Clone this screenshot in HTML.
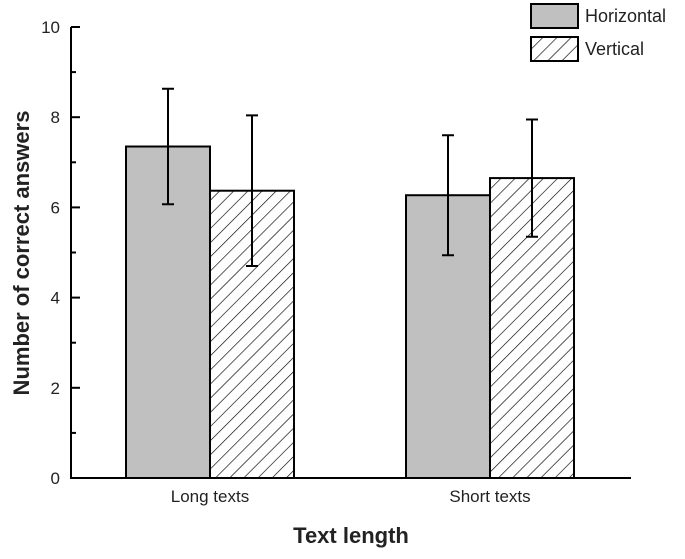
<!DOCTYPE html>
<html><head><meta charset="utf-8"><style>
body{margin:0;background:#fff;width:685px;height:554px;overflow:hidden}
text{font-family:"Liberation Sans",sans-serif;fill:#222}
</style></head><body>
<svg id="chart" width="685" height="554" xmlns="http://www.w3.org/2000/svg">
<defs><pattern id="hatch" patternUnits="userSpaceOnUse" width="10" height="10" patternTransform="rotate(45)">
<rect width="10" height="10" fill="#fff"/><line x1="0" y1="0" x2="0" y2="10" stroke="#000" stroke-width="1.3"/></pattern></defs>
<g id="plot"></g>
</svg>
<script>
const categories=["Long texts","Short texts"];
const seriesNames=["Horizontal","Vertical"];
const horizontalMeans=[7.35,6.27];
const horizontalErr=[1.28,1.33];
const verticalMeans=[6.37,6.65];
const verticalErr=[1.67,1.3];
const yTicks=[0,2,4,6,8,10];
const NS="http://www.w3.org/2000/svg";
const g=document.getElementById('plot');
const X0=71,X1=631,Y0=478,Y10=27;
const y=v=>Y0-(Y0-Y10)*v/10;
const catCenter=i=>210+i*(490-210);
const barW=84;
function el(t,a,p){const e=document.createElementNS(NS,t);for(const k in a)e.setAttribute(k,a[k]);(p||g).appendChild(e);return e;}
const ya=el('line',{x1:X0,y1:Y10,x2:X0,y2:Y0+1,stroke:'#000','stroke-width':2});


const xa=el('line',{x1:X0-1,y1:Y0,x2:X1,y2:Y0,stroke:'#000','stroke-width':2});


for(let v=0;v<=10;v++){const major=v%2===0;el('line',{x1:X0,x2:X0+(major?9:5),y1:y(v),y2:y(v),stroke:'#000','stroke-width':2});}
yTicks.forEach(v=>{const t=el('text',{x:X0-11,y:y(v)+6,'text-anchor':'end','font-size':17});t.textContent=v;

});
const series=[[horizontalMeans,horizontalErr,'#c0c0c0'],[verticalMeans,verticalErr,'url(#hatch)']];
categories.forEach((c,i)=>{
 series.forEach((s,j)=>{
  const x=catCenter(i)+(j===0?-barW:0);const v=s[0][i],e=s[1][i];
  const r=el('rect',{x:x,y:y(v),width:barW,height:Y0-y(v),fill:s[2],stroke:'#000','stroke-width':2});
  
  
  const cx=x+barW/2;
  const eb=el('path',{d:`M${cx},${y(v+e)}V${y(v-e)}M${cx-6},${y(v+e)}H${cx+6}M${cx-6},${y(v-e)}H${cx+6}`,stroke:'#000','stroke-width':2,fill:'none'});
  
  
 });
 const t=el('text',{x:catCenter(i),y:502,'text-anchor':'middle','font-size':17});t.textContent=c;
 
 
});
const xt=el('text',{x:351,y:543,'text-anchor':'middle','font-size':22,'font-weight':'bold','fill':'#333'});xt.textContent='Text length';


const yt=el('text',{x:0,y:0,'text-anchor':'middle','font-size':22,'font-weight':'bold','fill':'#333',transform:'translate(29,253) rotate(-90)'});yt.textContent='Number of correct answers';


seriesNames.forEach((n,j)=>{
 const r=el('rect',{x:531,y:4+j*33,width:47,height:24,fill:series[j][2],stroke:'#000','stroke-width':2});
 
 
 const t=el('text',{x:585,y:22+j*33,'font-size':18});t.textContent=n;
 
 
});
</script>
</body></html>
